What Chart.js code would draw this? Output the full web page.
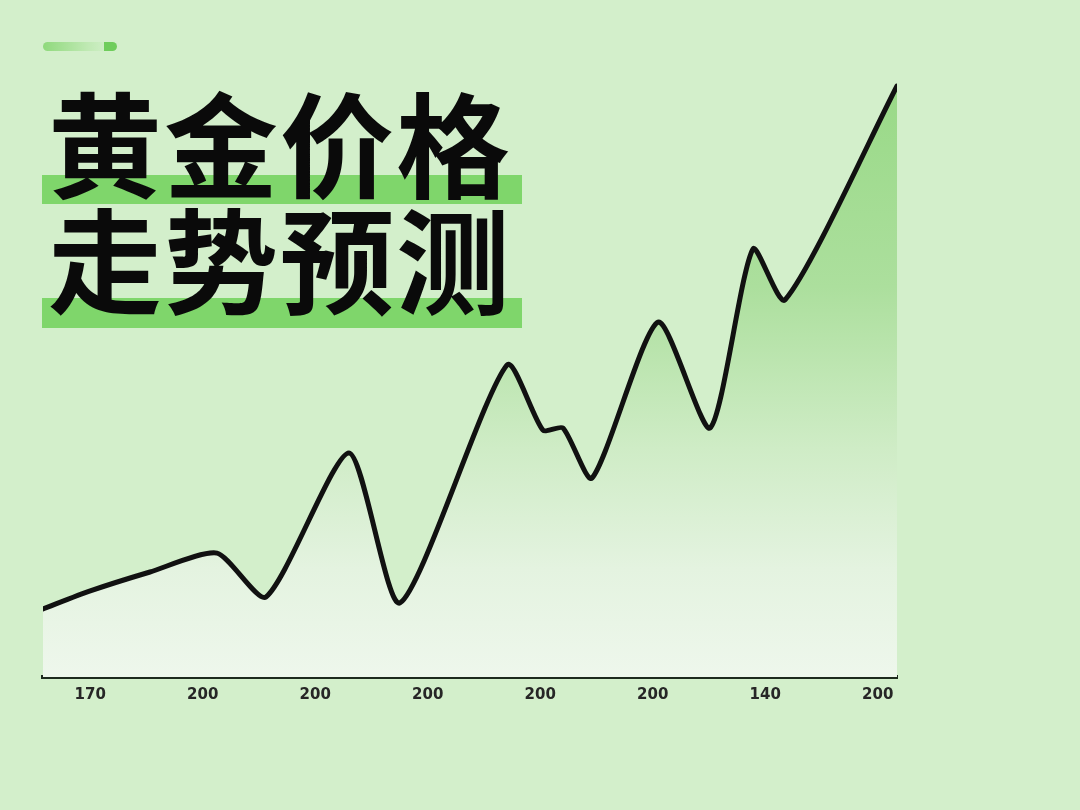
<!DOCTYPE html>
<html>
<head>
<meta charset="utf-8">
<script src="https://cdn.jsdelivr.net/npm/chart.js@4.4.1/dist/chart.umd.min.js"></script>
<style>
  html, body { margin: 0; padding: 0; }
  body { width: 1080px; height: 810px; background: #d3efcb; position: relative; overflow: hidden; }
  #c { position: absolute; left: 0; top: 0; }
  .pill { position: absolute; left: 43px; top: 42px; width: 74px; height: 9px; border-radius: 5px;
          background: linear-gradient(90deg, #8fd97c 0%, #bfe9b3 60%, #cdeec4 82%, #6fcd5c 83%, #6fcd5c 100%); }
  .hl { position: absolute; left: 42px; width: 480px; background: #7fd66b; }
  .title { position: absolute; left: 48px; font-family: "Noto Sans CJK SC", sans-serif; font-weight: 700;
           font-size: 114px; line-height: 116px; color: #0a0a0a; letter-spacing: 2px; white-space: nowrap; }
</style>
</head>
<body>
<canvas id="c" width="1080" height="810"></canvas>
<div class="pill"></div>
<div class="hl" style="top:175px;height:29px;"></div>
<div class="hl" style="top:298px;height:30px;"></div>
<div class="title" style="top:82px;">黄金价格</div>
<div class="title" style="top:198px;">走势预测</div>
<script>
const tickLabels = ["170", "200", "200", "200", "200", "200", "140", "200"];
const pointPos = [-0.42, 0.0, 0.531, 1.127, 1.562, 2.30, 2.753, 3.704, 4.024, 4.202, 4.46, 5.047, 5.509, 5.891, 6.176, 7.171];
const prices   = [1227, 1287, 1350, 1413, 1267, 1747, 1247, 2040, 1823, 1830, 1663, 2183, 1830, 2427, 2257, 2970];

const series = pointPos.map((x, i) => ({ x: x, y: prices[i] }));

new Chart(document.getElementById('c'), {
  type: 'line',
  data: {
    datasets: [{
      data: series,
      borderColor: '#111111',
      borderWidth: 5,
      pointRadius: 0,
      tension: 0.22,
      borderCapStyle: 'round',
      borderJoinStyle: 'round',
      fill: 'start',
      backgroundColor: (ctx) => {
        const ca = ctx.chart.chartArea;
        if (!ca) return 'rgba(160,220,140,0.5)';
        const g = ctx.chart.ctx.createLinearGradient(0, ca.top, 0, ca.bottom);
        g.addColorStop(0, '#98d986');
        g.addColorStop(0.35, '#acdf9d');
        g.addColorStop(0.62, '#cfecc6');
        g.addColorStop(0.82, '#e4f3e0');
        g.addColorStop(1, '#eef7ec');
        return g;
      }
    }]
  },
  options: {
    responsive: false,
    animation: false,
    layout: { padding: { left: 43, right: 183, top: 77, bottom: 97 } },
    plugins: { legend: { display: false }, tooltip: { enabled: false } },
    scales: {
      x: {
        type: 'linear',
        z: 1,
        min: -0.42,
        max: 7.171,
        grid: { display: false, drawTicks: false },
        border: { display: true, color: '#1d2a1d', width: 4 },
        afterBuildTicks: (scale) => { scale.ticks = tickLabels.map((_, i) => ({ value: i })); },
        ticks: {
          autoSkip: false,
          maxRotation: 0,
          padding: 9,
          color: '#262626',
          font: { family: 'DejaVu Sans', size: 15, weight: 'bold' },
          callback: (v) => tickLabels[Math.round(v)]
        }
      },
      y: {
        display: false,
        min: 1000,
        max: 3000
      }
    }
  }
});
</script>
</body>
</html>
